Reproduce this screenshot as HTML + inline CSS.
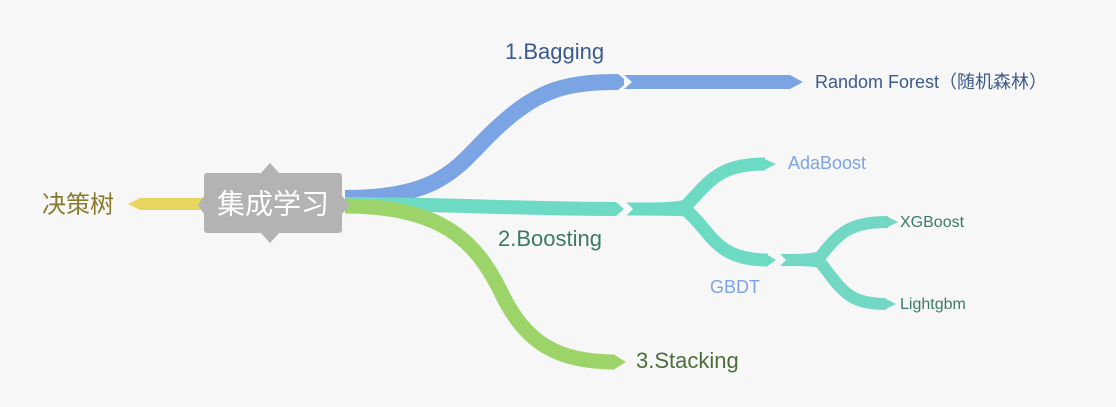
<!DOCTYPE html>
<html><head><meta charset="utf-8"><style>
html,body{margin:0;padding:0;background:#f7f7f7;}
svg{display:block}
text{font-family:"Liberation Sans","Noto Sans CJK SC",sans-serif;dominant-baseline:middle}
</style></head><body>
<svg width="1116" height="407" viewBox="0 0 1116 407">
<rect width="1116" height="407" fill="#f7f7f7"/>
<!-- yellow -->
<path d="M200 204 L140 204" stroke="#e8d660" stroke-width="12" fill="none"/>
<polygon points="140,198 128,204 140,210" fill="#e8d660"/>
<polygon points="200,198 196,204 200,210 206,210 206,198" fill="#e8d660"/>
<text x="42" y="206" font-size="24" fill="#877a2c">决策树</text>
<!-- blue -->
<path d="M345 198 C450 198 460 160 500 125 C540 88 570 82 618 82" stroke="#7ba4e4" stroke-width="16" fill="none"/>
<polygon points="618,74 628,82 618,90 612,90 612,74" fill="#7ba4e4"/>
<path d="M624 82 L790 82" stroke="#7ba4e4" stroke-width="14" fill="none"/>
<polygon points="624,75 632,82 624,89" fill="#f7f7f7"/>
<polygon points="790,75 803,82 790,89" fill="#7ba4e4"/>
<text x="505" y="53" font-size="22" fill="#3d5a8c">1.Bagging</text>
<text x="815" y="83" font-size="18" fill="#3d5a8c">Random Forest（随机森林）</text>
<!-- teal -->
<path d="M345 204 C450 204 520 209 616 209" stroke="#6ddac4" stroke-width="14" fill="none"/>
<polygon points="616,202 624,209 616,216" fill="#6ddac4"/>
<path d="M626 209 C660 209 676 209 686 206 C710 180 720 164 765 164" stroke="#6ddac4" stroke-width="13" fill="none"/>
<path d="M626 209 C660 209 676 209 686 210 C712 232 715 260 768 260" stroke="#6ddac4" stroke-width="13" fill="none"/>
<polygon points="626,202 633,209 626,216" fill="#f7f7f7"/>
<polygon points="762,158 776,164 762,171" fill="#6ddac4"/>
<polygon points="766,254 776,260 766,267" fill="#6ddac4"/>
<path d="M780 260 C800 260 812 260 820 257 C840 232 850 222 888 222" stroke="#72d8c4" stroke-width="12" fill="none"/>
<path d="M780 260 C800 260 812 260 820 262 C842 290 848 304 886 304" stroke="#72d8c4" stroke-width="12" fill="none"/>
<polygon points="780,254 786,260 780,266" fill="#f7f7f7"/>
<polygon points="886,216 898,222 886,228" fill="#72d8c4"/>
<polygon points="884,298 896,304 884,310" fill="#72d8c4"/>
<text x="498" y="240" font-size="22" fill="#3b7a66">2.Boosting</text>
<text x="788" y="164" font-size="18" fill="#7ba4e4">AdaBoost</text>
<text x="710" y="288" font-size="18" fill="#7ba4e4">GBDT</text>
<text x="900" y="223" font-size="16" fill="#3b7a66">XGBoost</text>
<text x="900" y="305" font-size="16" fill="#3b7a66">Lightgbm</text>
<!-- green -->
<path d="M345 206 C440 206 475 240 500 290 C525 345 560 362 615 362" stroke="#9cd46a" stroke-width="15" fill="none"/>
<polygon points="613,354 626,362 613,370" fill="#9cd46a"/>
<text x="636" y="362" font-size="22" fill="#4d6e3c">3.Stacking</text>
<!-- center -->
<polygon points="270,163 279,173 261,173" fill="#b3b3b3"/>
<polygon points="270,243 279,233 261,233" fill="#b3b3b3"/>
<polygon points="342,196 350,205 342,214" fill="#b3b3b3"/>
<polygon points="204,196 198,205 204,214 212,214 212,196" fill="#b3b3b3"/>
<rect x="204" y="173" width="138" height="60" rx="3" fill="#b3b3b3"/>
<text x="273" y="206" font-size="28" fill="#ffffff" text-anchor="middle">集成学习</text>
</svg>
</body></html>
